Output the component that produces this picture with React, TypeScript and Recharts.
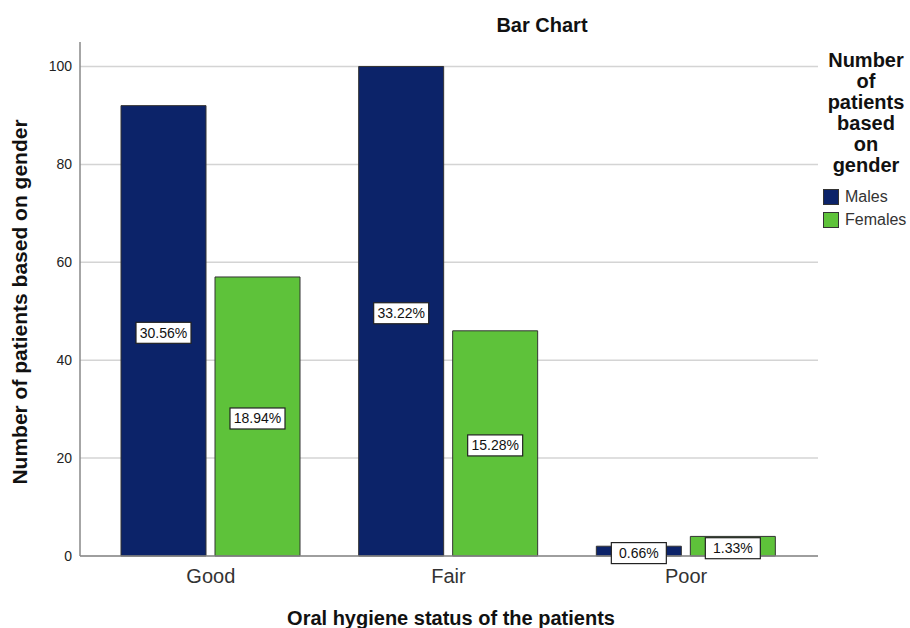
import React from 'react';
import { BarChart, Bar, XAxis, YAxis, CartesianGrid, LabelList } from 'recharts';

const categories = ['Good', 'Fair', 'Poor'];
const males = [92, 100, 2];
const females = [57, 46, 4];
const yTicks = [0, 20, 40, 60, 80, 100];
const seriesNames = ['Males', 'Females'];
const seriesColors = ['#0C2369', '#5EC23A'];
const legendTitle = ['Number', 'of', 'patients', 'based', 'on', 'gender'];
const chartTitle = 'Bar Chart';
const xTitle = 'Oral hygiene status of the patients';
const yTitle = 'Number of patients based on gender';

const total = [...males, ...females].reduce((a, b) => a + b, 0);
const data = categories.map((c, i) => ({ category: c, Males: males[i], Females: females[i] }));

const FONT = 'Arial, "Liberation Sans", sans-serif';

const PctLabel = (props: any) => {
  const { x, y, width, height, value } = props;
  const cx = Number(x) + Number(width) / 2;
  const cy = Number(y) + Number(height) / 2 + 2;
  const text = ((Number(value) / total) * 100).toFixed(2) + '%';
  const w = 55;
  const h = 21;
  return (
    <g>
      <rect x={cx - w / 2} y={cy - h / 2} width={w} height={h} fill="#fff" stroke="#222" strokeWidth={1.2} />
      <text x={cx} y={cy + 5} textAnchor="middle" fontSize={14} fontFamily={FONT} fill="#111">
        {text}
      </text>
    </g>
  );
};

export default function App() {
  return (
    <div style={{ position: 'absolute', left: 0, top: 0, width: 910, height: 628, background: '#fff', fontFamily: FONT }}>
      <BarChart
        width={910}
        height={628}
        data={data}
        margin={{ top: 42, right: 92, bottom: 42, left: 20 }}
        barSize={85}
        barGap={9}
      >
        <CartesianGrid vertical={false} horizontalValues={yTicks} stroke="#d4d4d4" strokeWidth={1.5} />
        <XAxis
          dataKey="category"
          height={30}
          padding={{ left: 12, right: 13 }}
          tickLine={false}
          tickSize={6}
          tickMargin={7}
          axisLine={{ stroke: '#888', strokeWidth: 1.5 }}
          tick={{ fontSize: 20, fill: '#333', fontFamily: FONT }}
        />
        <YAxis
          width={60}
          domain={[0, 105]}
          ticks={yTicks}
          tickLine={false}
          axisLine={{ stroke: '#888', strokeWidth: 1.5 }}
          tick={{ fontSize: 14, fill: '#222', fontFamily: FONT }}
        />
        <Bar dataKey="Males" fill={seriesColors[0]} stroke="#333" strokeWidth={1} isAnimationActive={false}>
          <LabelList dataKey="Males" content={PctLabel} />
        </Bar>
        <Bar dataKey="Females" fill={seriesColors[1]} stroke="#333" strokeWidth={1} isAnimationActive={false}>
          <LabelList dataKey="Females" content={PctLabel} />
        </Bar>
      </BarChart>

      <div style={{ position: 'absolute', left: 442, top: 13, width: 200, textAlign: 'center', fontSize: 20, fontWeight: 'bold', color: '#111', lineHeight: '24px' }}>
        {chartTitle}
      </div>

      <div style={{ position: 'absolute', left: 201, top: 606, width: 500, textAlign: 'center', fontSize: 20, fontWeight: 'bold', color: '#111', lineHeight: '24px' }}>
        {xTitle}
      </div>

      <div style={{ position: 'absolute', left: 20 - 250, top: 302 - 12, width: 500, textAlign: 'center', fontSize: 21, fontWeight: 'bold', color: '#111', lineHeight: '24px', transform: 'rotate(-90deg)', transformOrigin: '250px 12px' }}>
        {yTitle}
      </div>

      <div style={{ position: 'absolute', left: 819, top: 50, width: 94, textAlign: 'center', fontSize: 20, fontWeight: 'bold', color: '#111', lineHeight: '21px' }}>
        {legendTitle.map((t) => (
          <div key={t}>{t}</div>
        ))}
      </div>

      {seriesNames.map((n, i) => (
        <div key={n} style={{ position: 'absolute', left: 823, top: 189 + i * 23, height: 16, display: 'flex', alignItems: 'center' }}>
          <div style={{ width: 16, height: 16, background: seriesColors[i], border: '1px solid #333', boxSizing: 'border-box' }} />
          <span style={{ marginLeft: 6, fontSize: 16, color: '#333', lineHeight: '16px' }}>{n}</span>
        </div>
      ))}
    </div>
  );
}
